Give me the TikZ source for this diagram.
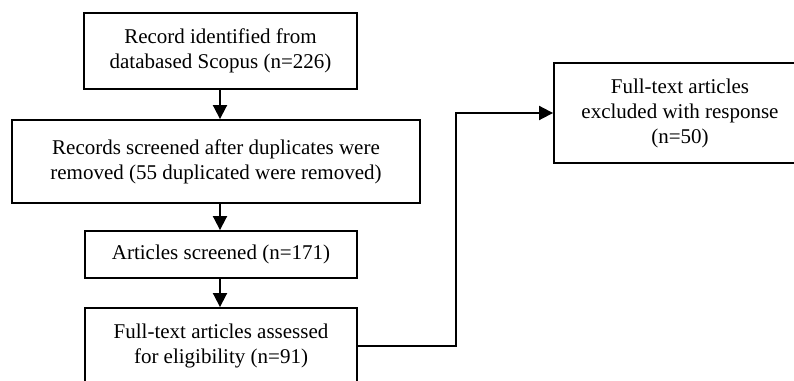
\documentclass[tikz,border=0pt]{standalone}
\usepackage{fontspec}
\setmainfont{Liberation Serif}
\usepackage{tikz}
\usetikzlibrary{arrows.meta}

\begin{document}
\begin{tikzpicture}[x=0.75pt,y=-0.75pt,
  box/.style={draw,line width=1.4pt,align=center,font=\fontsize{15.75}{18.75}\selectfont,inner sep=0pt},
  arr/.style={-{Triangle[length=10.5pt,width=10.5pt]},line width=1.4pt}]
\clip (0,0) rectangle (794,381);
\node[box,minimum width=204.75pt,minimum height=57pt] (b1) at (220.5,51) {Record identified from\\databased Scopus (n=226)};
\node[box,minimum width=306pt,minimum height=62.25pt] (b2) at (216,161.5) {Records screened after duplicates were\\removed (55 duplicated were removed)};
\node[box,minimum width=204pt,minimum height=35.25pt] (b3) at (221,254.5) {Articles screened (n=171)};
\node[box,minimum width=204pt,minimum height=57pt] (b4) at (221,346) {Full-text articles assessed\\for eligibility (n=91)};
\node[box,minimum width=189pt,minimum height=75pt] (b5) at (680,113) {Full-text articles\\excluded with response\\(n=50)};
\coordinate (bend) at (456,113);
\foreach \a/\b in {b1/b2,b2/b3,b3/b4}{\draw[arr] (220,0 |- \a.south) -- (220,0 |- \b.north);}
\draw[arr] (b4.east) -| (bend) -- (b5.west);
\end{tikzpicture}
\end{document}
